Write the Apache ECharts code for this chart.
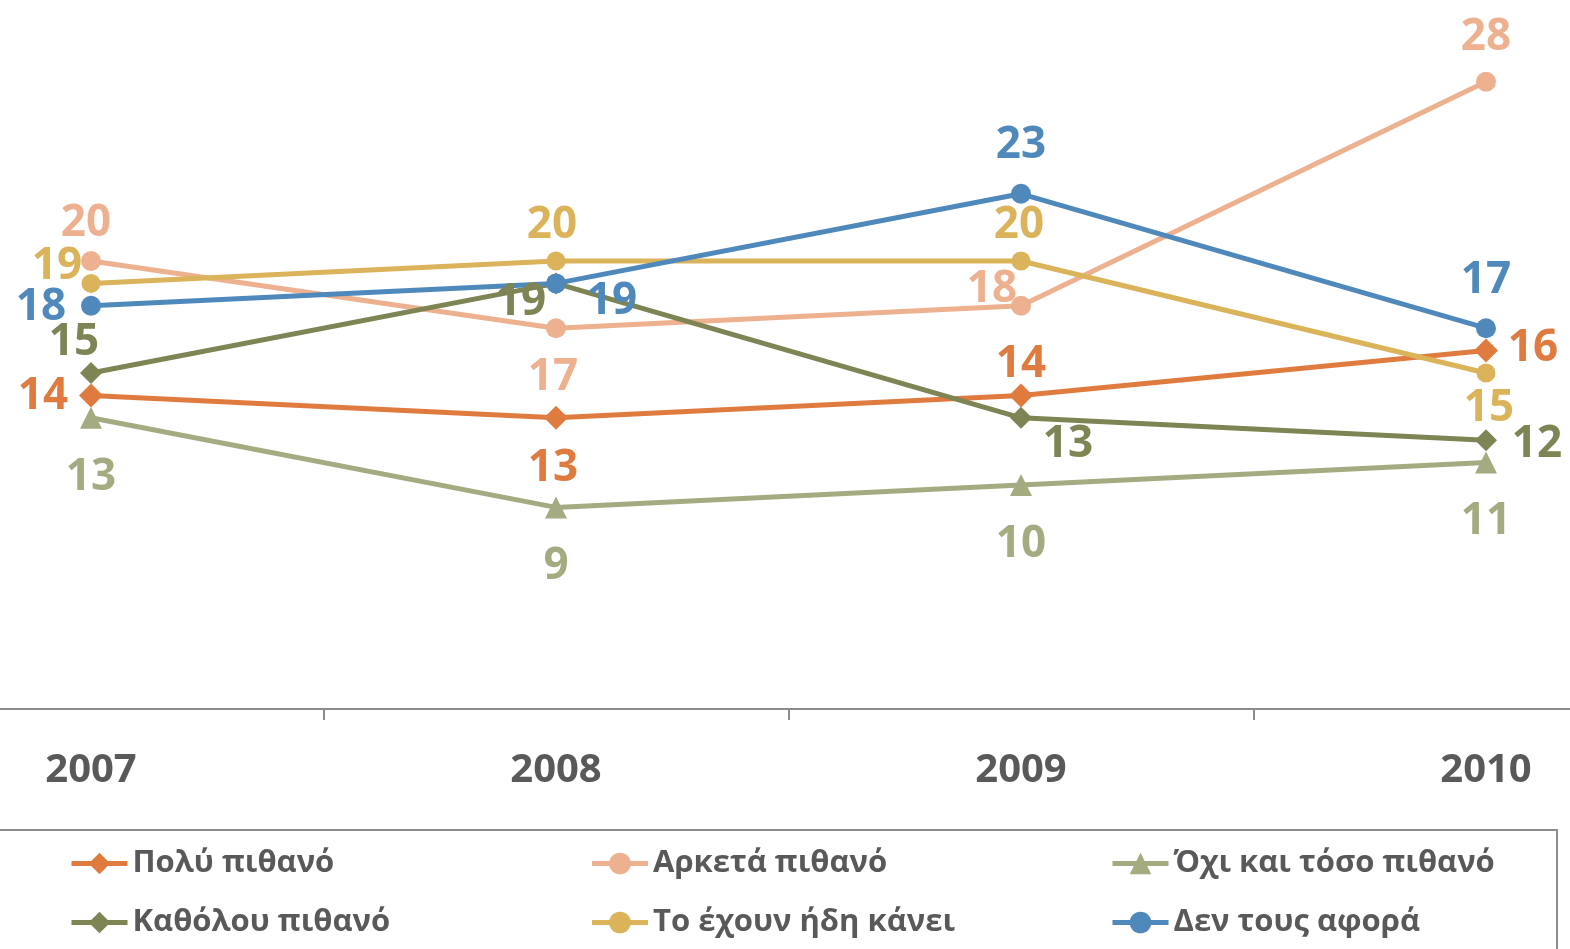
<!DOCTYPE html>
<html><head><meta charset="utf-8">
<script src="https://cdn.jsdelivr.net/npm/echarts@6/dist/echarts.min.js"></script>
<style>html,body{margin:0;padding:0;background:#fff}#c{width:1570px;height:949px}</style>
</head><body><div id="c"></div>
<script>
const categories = ['2007', '2008', '2009', '2010'];
const seriesNames = ['Πολύ πιθανό', 'Αρκετά πιθανό', 'Όχι και τόσο πιθανό', 'Καθόλου πιθανό', 'Το έχουν ήδη κάνει', 'Δεν τους αφορά'];
const poluPithano = [14, 13, 14, 16];
const arketaPithano = [20, 17, 18, 28];
const ochiTosoPithano = [13, 9, 10, 11];
const katholouPithano = [15, 19, 13, 12];
const echounKanei = [19, 20, 20, 15];
const denTousAfora = [18, 19, 23, 17];

const seriesValues = [poluPithano, arketaPithano, ochiTosoPithano, katholouPithano, echounKanei, denTousAfora];
const colors = ['#E07B3F', '#EDB18F', '#A4AB80', '#7E8454', '#DAB35A', '#4F89BC'];
const symbols = ['diamond', 'circle', 'triangle', 'diamond', 'circle', 'circle'];
const symbolSizes = [24, 20, 22, 22, 19, 20];
// label centre offsets from each point (style only)
const labelOffsets = [
  [[-48, 1], [-3, 51], [0, -31], [47, -2]],
  [[-5, -38], [-3, 49], [-29, -16], [0, -44]],
  [[0, 60], [0, 59], [0, 59], [0, 59]],
  [[-17, -31], [-35, 19], [47, 27], [51, 4]],
  [[-34, -17], [-4, -36], [-2, -36], [3, 35]],
  [[-50, 2], [56, 18], [0, -48], [0, -48]]
];

const chart = echarts.init(document.getElementById('c'));
const series = seriesNames.map((name, i) => ({
  name: name,
  type: 'line',
  data: seriesValues[i].map((v, j) => ({
    value: v,
    label: { offset: labelOffsets[i][j] }
  })),
  symbol: symbols[i],
  symbolSize: symbolSizes[i],
  lineStyle: { color: colors[i], width: 5 },
  itemStyle: { color: colors[i] },
  label: {
    show: true,
    position: 'inside',
    align: 'center',
    verticalAlign: 'middle',
    color: colors[i],
    fontFamily: 'Open Sans',
    fontWeight: 'bold',
    fontSize: 44
  },
  emphasis: { disabled: true },
  animation: false
}));

chart.setOption({
  animation: false,
  color: colors,
  grid: { left: -141.5, right: -148.5, top: 37, bottom: 240, outerBoundsMode: 'none', containLabel: false },
  xAxis: {
    type: 'category',
    data: categories,
    boundaryGap: true,
    axisLine: { lineStyle: { color: '#8C8C8C', width: 2 } },
    axisTick: { show: true, length: 11, lineStyle: { color: '#8C8C8C', width: 2 } },
    axisLabel: { color: '#595959', fontFamily: 'Open Sans', fontWeight: 'bold', fontSize: 40, margin: 42 }
  },
  yAxis: {
    type: 'value', min: 0, max: 30,
    show: false, splitLine: { show: false }
  },
  legend: {
    data: seriesNames,
    orient: 'horizontal',
    left: 69, top: 844, width: 1580,
    padding: 0,
    itemWidth: 56, itemHeight: 27, itemGap: 20,
    lineStyle: { width: 5 },
    textStyle: { color: '#595959', fontFamily: 'Open Sans', fontWeight: 'bold', fontSize: 31, width: 437, lineHeight: 39, overflow: 'none' },
    selectedMode: false
  },
  graphic: [{
    type: 'rect', shape: { x: -10, y: 830, width: 1567, height: 200 },
    style: { fill: 'none', stroke: '#8C8C8C', lineWidth: 2 }, z: -1
  }],
  series: series
});
</script></body></html>
